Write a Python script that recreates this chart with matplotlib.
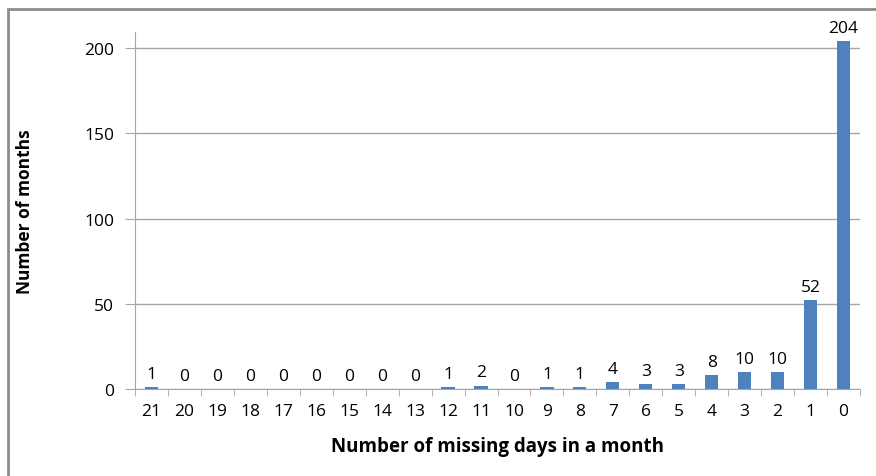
import numpy as np
import matplotlib.pyplot as plt
from matplotlib.patches import Rectangle

# Data
days = ['21', '20', '19', '18', '17', '16', '15', '14', '13', '12', '11',
        '10', '9', '8', '7', '6', '5', '4', '3', '2', '1', '0']
months = [1, 0, 0, 0, 0, 0, 0, 0, 0, 1, 2, 0, 1, 1, 4, 3, 3, 8, 10, 10, 52, 204]

plt.rcParams['font.family'] = ['Open Sans', 'DejaVu Sans']

fig = plt.figure(figsize=(8.76, 4.77), dpi=100)
ax = fig.add_axes([135 / 876, 1 - 390 / 477, 725 / 876, 357 / 477])

# outer chart border
fig.patches.append(Rectangle((8 / 876, -0.05), 1.1, 1 - 10 / 477 + 0.05,
                             transform=fig.transFigure, fill=False,
                             edgecolor='#8c8c8c', linewidth=2))

x = np.arange(len(days))
ax.bar(x, months, width=0.4, color='#4F81BD', zorder=3)

for xi, v in zip(x, months):
    ax.text(xi, v + 3, str(v), ha='center', va='bottom', fontsize=12.5)

ax.set_xlim(-0.5, len(days) - 0.5)
ax.set_ylim(0, 209.5)
ax.set_yticks([0, 50, 100, 150, 200])
ax.yaxis.grid(True, color='#a6a6a6', linewidth=1)
ax.set_axisbelow(True)

# ticks between categories
ax.set_xticks(x)
ax.set_xticklabels(days, fontsize=12.5)
ax.set_xticks(np.arange(-0.5, len(days)), minor=True)
ax.tick_params(axis='x', which='major', length=0, pad=10)
ax.tick_params(axis='x', which='minor', length=5, color='#a6a6a6', direction='out')
ax.tick_params(axis='y', length=7, color='#a6a6a6', labelsize=12.5, pad=8)

for s in ['top', 'right']:
    ax.spines[s].set_visible(False)
ax.spines['left'].set_color('#a6a6a6')
ax.spines['bottom'].set_color('#a6a6a6')

ax.set_xlabel('Number of missing days in a month', fontsize=13.5, fontweight='bold', labelpad=12)
ax.set_ylabel('Number of months', fontsize=12.5, fontweight='bold', labelpad=36)

plt.savefig('out.png', dpi=100)
